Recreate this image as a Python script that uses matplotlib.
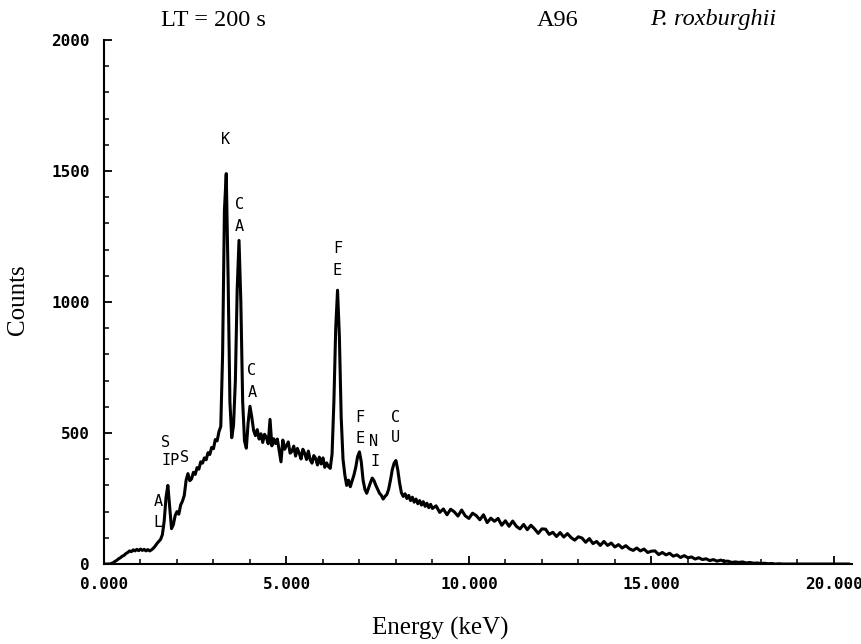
import numpy as np
import matplotlib
matplotlib.use("Agg")
import matplotlib.pyplot as plt
import matplotlib.ticker as mtick

# spectrum, 0.00 - 9.00 keV in 0.05 keV channels
counts_low = [
    0, 0, 0, 0, 2, 5, 10, 14, 20, 24, 30, 33, 40, 44, 50, 47, 54, 50, 56, 51,
    57, 52, 56, 50, 55, 50, 54, 60, 68, 78, 86,
    94, 112, 165, 255, 300, 215, 135, 150, 185, 200, 190, 225, 240, 262, 320, 345, 318,
    325, 350, 342, 368, 362, 390, 385, 405, 398, 425, 418, 445, 440, 475, 470, 505,
    525, 800, 1350, 1490, 1100, 620, 482, 530, 700, 1050, 1235, 1000, 620, 470, 442, 540,
    602, 560, 510, 490,
    513, 477, 497, 464, 495, 483, 459, 552, 451, 478, 460, 477, 434, 390, 473, 438,
    452, 466, 423, 430, 450, 412, 441, 423, 401, 438, 423, 399, 431, 398, 385, 414,
    403, 378, 408, 382, 405, 369, 386, 372,
    365, 420, 620, 900, 1045, 870, 560, 400, 340, 300, 320, 295, 318,
    340, 370, 410, 428, 390, 320, 285, 270, 290, 310, 328, 318, 300, 285, 270, 262,
    248, 258, 265, 285, 320, 360, 385, 395, 360, 310, 272, 258, 268, 250, 262, 242,
    255, 236, 248, 230, 242, 225, 238, 220, 232, 215, 228, 212,
]

# spectrum, 9.1 - 20.4 keV in 0.1 keV channels
counts_high = [
    222, 197, 210, 188, 209, 199, 183, 206, 184, 174,
    194, 185, 169, 188, 158, 175, 163, 174, 148, 165,
    144, 164, 144, 134, 151, 131, 148, 134, 117, 134,
    133, 113, 121, 105, 120, 103, 116, 101, 91, 104,
    99, 83, 97, 78, 86, 71, 86, 71, 80, 65,
    74, 61, 70, 58, 52, 61, 50, 57, 44, 49,
    50, 36, 44, 35, 41, 30, 35, 25, 32, 24,
    27, 19, 24, 17, 20, 13, 17, 11, 15, 10,
    11, 6, 8, 6, 8, 4, 6, 3, 4, 2,
    3, 1, 2, 0, 1,
    0, 0, 0, 0, 0, 0, 0, 0, 0, 0, 0, 0, 0, 0, 0, 0, 0, 0, 0,
]

energy = np.concatenate([np.arange(len(counts_low)) * 0.05,
                         9.0 + np.arange(1, len(counts_high) + 1) * 0.1])
counts = np.array(counts_low + counts_high)

# element labels and where they sit
peak_letters = ["K", "C", "A", "F", "E", "C", "A", "S", "IP", "S",
                "A", "L", "F", "E", "N", "I", "C", "U"]
peak_pos = [(3.33, 1622), (3.71, 1374), (3.71, 1287), (6.40, 1203), (6.40, 1119),
            (4.05, 738), (4.05, 656), (1.70, 464), (1.82, 396),
            (2.20, 408), (1.49, 240), (1.49, 160), (7.01, 561), (7.01, 480),
            (7.38, 468), (7.42, 392), (8.00, 558), (8.00, 481)]

fig = plt.figure(figsize=(8.61, 6.44), dpi=100)
ax = fig.add_axes([0.1208, 0.1242, 0.8688, 0.8137])

ax.plot(energy, counts, color="black", lw=2.2)

ax.set_xlim(0, 20.5)
ax.set_ylim(0, 2000)
ax.spines["top"].set_visible(False)
ax.spines["right"].set_visible(False)
ax.spines["left"].set_linewidth(1.5)
ax.spines["bottom"].set_linewidth(1.5)

ax.xaxis.set_major_locator(mtick.MultipleLocator(5))
ax.xaxis.set_minor_locator(mtick.MultipleLocator(1))
ax.yaxis.set_major_locator(mtick.MultipleLocator(500))
ax.yaxis.set_minor_locator(mtick.MultipleLocator(100))
ax.xaxis.set_major_formatter(mtick.FormatStrFormatter("%.3f"))
ax.tick_params(which="major", direction="in", length=6, width=1.3)
ax.tick_params(which="minor", direction="in", length=3.5, width=1.1)
ax.tick_params(axis="x", which="major", pad=9)
ax.tick_params(axis="y", which="major", pad=10)
for lab in ax.get_xticklabels() + ax.get_yticklabels():
    lab.set_fontfamily("DejaVu Sans Mono")
    lab.set_fontweight("bold")
    lab.set_fontsize(11.5)

for letter, (e, c) in zip(peak_letters, peak_pos):
    ax.text(e, c, letter, ha="center", va="center", fontsize=11,
            family="DejaVu Sans Mono")

serif = "Liberation Serif"
fig.text(213 / 861, 1 - 20 / 644, "LT = 200 s", ha="center", va="center",
         family=serif, fontsize=17.5)
fig.text(558 / 861, 1 - 20 / 644, "A96", ha="center", va="center",
         family=serif, fontsize=17.5)
fig.text(713 / 861, 1 - 20 / 644, "P. roxburghii", ha="center", va="center",
         family=serif, fontsize=17.5, style="italic")
fig.text(440 / 861, 1 - 628 / 644, "Energy (keV)", ha="center", va="center",
         family=serif, fontsize=18)
fig.text(18 / 861, 1 - 300 / 644, "Counts", ha="center", va="center",
         family=serif, fontsize=18, rotation=90)

fig.savefig("out.png", dpi=100)
